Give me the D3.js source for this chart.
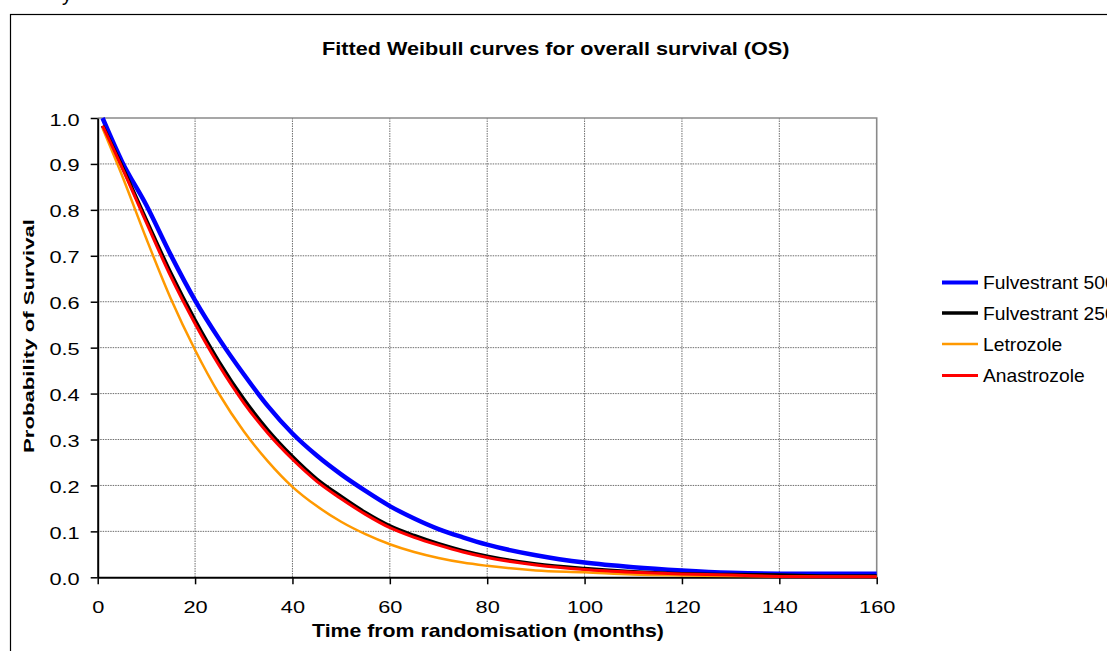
<!DOCTYPE html>
<html><head><meta charset="utf-8">
<script src="https://cdn.jsdelivr.net/npm/d3@7"></script>
<style>
html,body{margin:0;padding:0;background:#fff;overflow:hidden}
svg{display:block}
text{font-family:"Liberation Sans",Arial,Helvetica,sans-serif;fill:#000}
</style>
</head><body>
<svg id="chart" width="1107" height="651"></svg>
<script>
// ---- data ----
const months   = [1, 5, 10, 15, 20, 25, 30, 35, 40, 45, 50, 55, 60, 65, 70, 75, 80, 90, 100, 110, 120, 130, 140, 150, 160];
const fulv500  = [1.000, 0.905, 0.810, 0.702, 0.603, 0.518, 0.442, 0.372, 0.313, 0.265, 0.224, 0.188, 0.155, 0.128, 0.105, 0.087, 0.071, 0.048, 0.032, 0.022, 0.015, 0.010, 0.008, 0.008, 0.008];
const fulv250  = [0.983, 0.895, 0.778, 0.663, 0.560, 0.468, 0.388, 0.320, 0.263, 0.214, 0.176, 0.141, 0.112, 0.091, 0.073, 0.058, 0.046, 0.029, 0.019, 0.012, 0.008, 0.006, 0.005, 0.003, 0.003];
const letrozole   = [0.978, 0.875, 0.737, 0.607, 0.495, 0.398, 0.318, 0.252, 0.197, 0.155, 0.121, 0.094, 0.072, 0.055, 0.042, 0.032, 0.025, 0.015, 0.011, 0.006, 0.004, 0.003, 0.002, 0.001, 0.001];
const anastrozole = [0.983, 0.892, 0.772, 0.655, 0.552, 0.460, 0.380, 0.313, 0.257, 0.209, 0.171, 0.137, 0.108, 0.087, 0.070, 0.055, 0.043, 0.027, 0.017, 0.011, 0.007, 0.005, 0.002, 0.001, 0.001];
const seriesNames  = ["Fulvestrant 500", "Fulvestrant 250", "Letrozole", "Anastrozole"];
const seriesColors = ["#0000ff", "#000000", "#ff9900", "#ff0000"];
const seriesWidths = [4.5, 3.5, 2.5, 3];
const xTicks = [0, 20, 40, 60, 80, 100, 120, 140, 160];
const yTicks = [0, 0.1, 0.2, 0.3, 0.4, 0.5, 0.6, 0.7, 0.8, 0.9, 1.0];
const chartTitle = "Fitted Weibull curves for overall survival (OS)";
const xTitle = "Time from randomisation (months)";
const yTitle = "Probability of Survival";

// ---- layout ----
const svg = d3.select("#chart");
const P = {left: 97.7, right: 876.7, top: 118, bottom: 577.3};
const x = d3.scaleLinear().domain([0, 160]).range([P.left, P.right]);
const y = d3.scaleLinear().domain([0, 1]).range([P.bottom, P.top]);

function stretch(sel, sx) {
  sel.each(function() {
    const L = this.getComputedTextLength();
    this.setAttribute("textLength", L * sx);
    this.setAttribute("lengthAdjust", "spacingAndGlyphs");
  });
}

// caption text above the chart (only its lower part is visible)
svg.append("text").attr("x", 62).attr("y", 1).style("font-size", "20px").text("y");

// outer chart border
svg.append("rect").attr("x", 10.5).attr("y", 14.5).attr("width", 1300).attr("height", 800)
  .attr("fill", "#fff").attr("stroke", "#000").attr("stroke-width", 1.2);

// gridlines
const grid = svg.append("g");
grid.selectAll("line.h").data(yTicks.filter(d => d > 0 && d < 1)).join("line")
  .attr("x1", P.left).attr("x2", P.right).attr("y1", d => y(d)).attr("y2", d => y(d))
  .attr("stroke", "#6f6f6f").attr("stroke-width", 1).attr("stroke-dasharray", "1.5,1");
grid.selectAll("line.v").data(xTicks.filter(d => d > 0 && d < 160)).join("line")
  .attr("y1", P.top).attr("y2", P.bottom).attr("x1", d => x(d)).attr("x2", d => x(d))
  .attr("stroke", "#6f6f6f").attr("stroke-width", 1).attr("stroke-dasharray", "1.5,1");
// plot border (top / right)
svg.append("path").attr("d", `M${P.left},${y(1)}H${x(160)}V${P.bottom}`)
  .attr("fill", "none").attr("stroke", "#8a8a8a").attr("stroke-width", 1.6);

// axes
const yAxis = svg.append("g").attr("transform", `translate(${P.left},0)`)
  .call(d3.axisLeft(y).tickValues(yTicks).tickSize(7).tickSizeOuter(0).tickFormat(d3.format(".1f")));
const xAxis = svg.append("g").attr("transform", `translate(0,${P.bottom})`)
  .call(d3.axisBottom(x).tickValues(xTicks).tickSize(7).tickSizeOuter(0).tickFormat(d3.format("d")));
[yAxis, xAxis].forEach(a => {
  a.select(".domain").attr("stroke", "#000").attr("stroke-width", 2);
  a.selectAll(".tick line").attr("stroke", "#000").attr("stroke-width", 1.5);
  a.selectAll("text").attr("font-family", null).style("font-size", "17px").attr("fill", "#000");
});
yAxis.selectAll(".tick text").attr("x", -18).attr("dy", null).attr("y", 7);
xAxis.selectAll(".tick text").attr("y", 36).attr("dy", null);
stretch(yAxis.selectAll(".tick text"), 1.28);
stretch(xAxis.selectAll(".tick text"), 1.28);

// series
const allSeries = [fulv500, fulv250, letrozole, anastrozole];
const line = d3.line().x((d, i) => x(months[i])).y(d => y(d)).curve(d3.curveMonotoneX);
svg.append("g").selectAll("path").data(allSeries).join("path")
  .attr("d", d => line(d)).attr("fill", "none")
  .attr("stroke", (d, i) => seriesColors[i]).attr("stroke-width", (d, i) => seriesWidths[i])
  .attr("stroke-linejoin", "round");

// titles
const t1 = svg.append("text").attr("x", 322).attr("y", 55).attr("text-anchor", "start")
  .style("font-size", "18.5px").style("font-weight", "bold").text(chartTitle);
stretch(t1, 1.17);
const t2 = svg.append("text").attr("x", 488).attr("y", 636.5).attr("text-anchor", "middle")
  .style("font-size", "18.5px").style("font-weight", "bold").text(xTitle);
stretch(t2, 1.15);
const t3 = svg.append("text").attr("transform", "translate(33.5,336) rotate(-90)").attr("text-anchor", "middle")
  .style("font-size", "15px").style("font-weight", "bold").text(yTitle);
t3.attr("textLength", 234).attr("lengthAdjust", "spacingAndGlyphs");

// legend
const legendY = [282.5, 313, 344, 375.5];
const lg = svg.append("g").selectAll("g").data(seriesNames).join("g")
  .attr("transform", (d, i) => `translate(0,${legendY[i]})`);
lg.append("line").attr("x1", 942).attr("x2", 978).attr("y1", 0).attr("y2", 0)
  .attr("stroke", (d, i) => seriesColors[i]).attr("stroke-width", (d, i) => Math.min(seriesWidths[i], 4));
const lt = lg.append("text").attr("x", 983).attr("y", 6.8).style("font-size", "18.5px").text(d => d);
stretch(lt, 1.04);
</script>
</body></html>
